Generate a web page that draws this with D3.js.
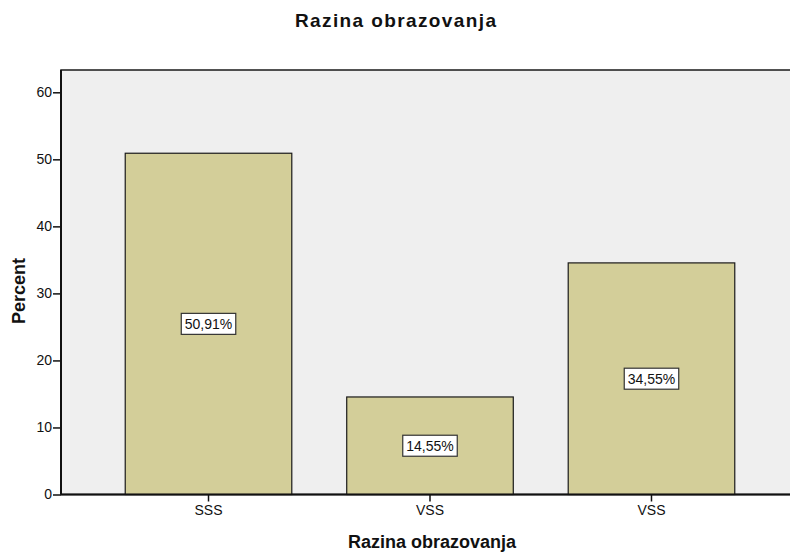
<!DOCTYPE html>
<html>
<head>
<meta charset="utf-8">
<script src="https://cdn.jsdelivr.net/npm/d3@7"></script>
<style>
  body { margin: 0; background: #fff; }
  svg { display: block; font-family: "Liberation Sans", Arial, sans-serif; }
</style>
</head>
<body>
<svg id="chart" width="790" height="552"></svg>
<script>
const categories = ["SSS", "VSS", "VSS"];
const percents = [50.91, 14.55, 34.55];
const labels = ["50,91%", "14,55%", "34,55%"];
const yTicks = [0, 10, 20, 30, 40, 50, 60];
const title = "Razina obrazovanja";
const xTitle = "Razina obrazovanja";
const yTitle = "Percent";

(function () {
const svg = d3.select("#chart");
const W = 790, H = 552;
const pLeft = 61, pTop = 70, pBottom = 494.5, pRight = 799;

const y = d3.scaleLinear().domain([0, 60]).range([pBottom, 92.3]);
const x = d3.scaleBand().domain(d3.range(categories.length))
  .range([pLeft, pRight]).paddingInner(0.248).paddingOuter(0.29);

// plot background
svg.append("rect").attr("x", pLeft).attr("y", pTop)
  .attr("width", W - pLeft + 2).attr("height", pBottom - pTop)
  .attr("fill", "#efefef").attr("stroke", "#1a1a1a").attr("stroke-width", 1.5);

// bars
svg.selectAll("rect.bar").data(percents).enter().append("rect")
  .attr("class", "bar")
  .attr("x", (d, i) => x(i))
  .attr("y", d => y(d))
  .attr("width", x.bandwidth())
  .attr("height", d => y(0) - y(d))
  .attr("fill", "#d3ce99")
  .attr("stroke", "#1a1a1a").attr("stroke-width", 1.2);

// value labels
const lg = svg.selectAll("g.lbl").data(percents).enter().append("g")
  .attr("class", "lbl")
  .attr("transform", (d, i) => `translate(${x(i) + x.bandwidth() / 2},${y(d / 2)})`);
lg.each(function (d, i) {
  const g = d3.select(this);
  const t = g.append("text").text(labels[i])
    .attr("text-anchor", "middle").attr("dy", "0.36em")
    .attr("font-size", 14).attr("fill", "#111");
  const bb = t.node().getBBox();
  g.insert("rect", "text")
    .attr("x", bb.x - 3.5).attr("y", -10.5)
    .attr("width", bb.width + 7).attr("height", 21)
    .attr("fill", "#fff").attr("stroke", "#333").attr("stroke-width", 1.2);
});

// y axis
const yAxis = d3.axisLeft(y).tickValues(yTicks).tickSize(8).tickPadding(1).tickFormat(d3.format("d"));
const gy = svg.append("g").attr("transform", `translate(${pLeft},0)`).call(yAxis);
gy.select(".domain").remove();
gy.selectAll(".tick line").attr("stroke", "#111").attr("stroke-width", 1.5);
gy.selectAll(".tick text").attr("font-size", 14).attr("fill", "#111")
  .attr("font-family", "Liberation Sans, Arial, sans-serif");
svg.append("line").attr("x1", pLeft).attr("x2", pLeft).attr("y1", pTop).attr("y2", pBottom)
  .attr("stroke", "#111").attr("stroke-width", 2);

// x axis
const xAxis = d3.axisBottom(x).tickSize(7).tickPadding(4).tickFormat(i => categories[i]);
const gx = svg.append("g").attr("transform", `translate(0,${pBottom})`).call(xAxis);
gx.select(".domain").remove();
gx.selectAll(".tick line").attr("stroke", "#111").attr("stroke-width", 1.5);
gx.selectAll(".tick text").attr("font-size", 14).attr("fill", "#111")
  .attr("font-family", "Liberation Sans, Arial, sans-serif");
svg.append("line").attr("x1", pLeft).attr("x2", W).attr("y1", pBottom).attr("y2", pBottom)
  .attr("stroke", "#111").attr("stroke-width", 2);

// titles
svg.append("text").text(title).attr("x", 395.5).attr("y", 27)
  .attr("text-anchor", "middle").attr("font-size", 19).attr("font-weight", "bold").attr("fill", "#111")
  .attr("textLength", 201).attr("lengthAdjust", "spacing");
svg.append("text").text(xTitle).attr("x", 432).attr("y", 547.5)
  .attr("text-anchor", "middle").attr("font-size", 18).attr("font-weight", "bold").attr("fill", "#111");
svg.append("text").text(yTitle)
  .attr("transform", "translate(25,291) rotate(-90)")
  .attr("text-anchor", "middle").attr("font-size", 18).attr("font-weight", "bold").attr("fill", "#111");
})();
</script>
</body>
</html>
